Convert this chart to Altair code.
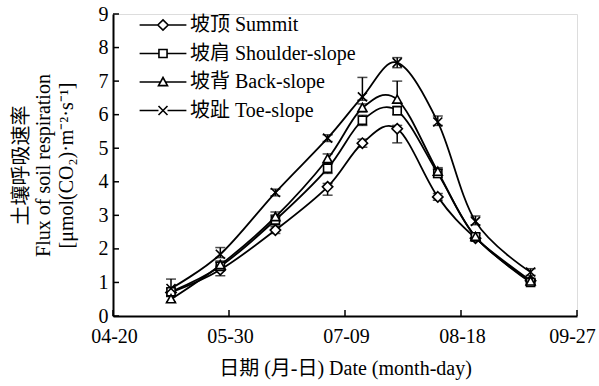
import altair as alt
import pandas as pd

# Soil respiration flux along a slope transect, growing season
series = ["坡顶 Summit", "坡肩 Shoulder-slope", "坡背 Back-slope", "坡趾 Toe-slope"]
dates = ["05-10", "05-27", "06-15", "07-03", "07-15", "07-27", "08-10", "08-23", "09-11"]

summit = [0.70, 1.38, 2.56, 3.85, 5.15, 5.58, 3.55, 2.32, 1.05]
shoulder = [0.72, 1.48, 2.86, 4.40, 5.83, 6.12, 4.25, 2.36, 1.00]
back = [0.50, 1.52, 2.95, 4.68, 6.20, 6.45, 4.30, 2.36, 1.03]
toe = [0.82, 1.84, 3.68, 5.30, 6.53, 7.55, 5.78, 2.82, 1.31]

# error bar extents (upper / lower)
summit_up = [0.10, 0.10, 0.10, 0.10, 0.12, 0.10, 0.10, 0.08, 0.05]
summit_dn = [0.10, 0.18, 0.10, 0.25, 0.12, 0.42, 0.10, 0.08, 0.05]
shoulder_up = [0.10, 0.12, 0.15, 0.15, 0.15, 0.12, 0.12, 0.10, 0.08]
shoulder_dn = [0.10, 0.12, 0.15, 0.15, 0.15, 0.12, 0.12, 0.10, 0.08]
back_up = [0.08, 0.12, 0.15, 0.15, 0.12, 0.55, 0.12, 0.10, 0.08]
back_dn = [0.08, 0.12, 0.10, 0.15, 0.12, 0.10, 0.12, 0.10, 0.08]
toe_up = [0.28, 0.20, 0.10, 0.10, 0.58, 0.15, 0.18, 0.16, 0.10]
toe_dn = [0.10, 0.10, 0.10, 0.10, 0.10, 0.15, 0.10, 0.10, 0.10]

x_tick_labels = ["04-20", "05-30", "07-09", "08-18", "09-27"]
y_ticks = [0, 1, 2, 3, 4, 5, 6, 7, 8, 9]

# marker glyphs (unit-square SVG paths) and legend glyphs (marker with line)
marker_paths = [
    "M0,-1.15L1.15,0L0,1.15L-1.15,0Z",
    "M-0.9,-0.9L0.9,-0.9L0.9,0.9L-0.9,0.9Z",
    "M0,-1L1,0.8L-1,0.8Z",
    "M-1,-1L1,1M-1,1L1,-1",
]
legend_paths = [
    "M-5.2,0L-1.15,0M1.15,0L5.2,0M0,-1.15L1.15,0L0,1.15L-1.15,0Z",
    "M-5.2,0L-0.9,0M0.9,0L5.2,0M-0.9,-0.9L0.9,-0.9L0.9,0.9L-0.9,0.9Z",
    "M-5.2,0L-0.55,0M0.55,0L5.2,0M0,-1L1,0.8L-1,0.8Z",
    "M-5.2,0L-1,0M1,0L5.2,0M-1,-1L1,1M-1,1L1,-1",
]

FONT = "Liberation Serif, Times New Roman, Noto Sans CJK SC"
start = pd.Timestamp("2013-04-20")


def day_of(md):
    return int((pd.Timestamp("2013-" + md) - start).days)


rows = []
for name, vals, ups, dns in zip(
    series,
    [summit, shoulder, back, toe],
    [summit_up, shoulder_up, back_up, toe_up],
    [summit_dn, shoulder_dn, back_dn, toe_dn],
):
    for d, v, u, w in zip(dates, vals, ups, dns):
        rows.append({"series": name, "day": day_of(d), "flux": v,
                     "hi": v + u, "lo": v - w})
df = pd.DataFrame(rows)

tick_days = [day_of(t) for t in x_tick_labels]
label_expr = " : ".join(f"datum.value == {d} ? '{t}'" for d, t in zip(tick_days, x_tick_labels)) + " : ''"

ticks_x = pd.DataFrame({"day": tick_days})
ticks_y = pd.DataFrame({"v": y_ticks})

x_axis = alt.Axis(values=tick_days, labelExpr=label_expr, ticks=False, grid=False,
                  domainColor="black", domainWidth=2, labelFont=FONT, labelFontSize=20,
                  labelColor="black", labelPadding=10, labelFlush=False, labelOverlap=False,
                  labelOffset={"condition": {"test": f"datum.value == {tick_days[-1]}",
                                             "value": -5}, "value": 1},
                  title="日期 (月-日) Date (month-day)", titleFont=FONT, titleFontSize=20,
                  titleFontWeight="normal", titleColor="black", titlePadding=12)
y_axis = alt.Axis(values=y_ticks, ticks=False, grid=False, domainColor="black",
                  domainWidth=2, labelFont=FONT, labelFontSize=20, labelColor="black",
                  labelPadding=5, labelFlush=False, labelOverlap=False, labelBound=False,
                  title=["土壤呼吸速率", "Flux of soil respiration", "[μmol(CO₂)·m⁻²·s⁻¹]"],
                  titleFont=FONT, titleFontSize=20, titleFontWeight="normal",
                  titleColor="black", titleLineHeight=22.5, titlePadding=22)

x_scale = alt.Scale(domain=[tick_days[0], tick_days[-1]], nice=False, zero=False)
y_scale = alt.Scale(domain=[0, 9], nice=False)

# every layer carries the same axis definition so the merged axes keep it
xq = alt.X("day:Q", scale=x_scale, axis=x_axis)


def yq(field):
    return alt.Y(field, scale=y_scale, axis=y_axis)


base = alt.Chart(df)

lines = base.mark_line(interpolate="cardinal", color="black", strokeWidth=1.8).encode(
    x=xq, y=yq("flux:Q"), detail="series:N")

err_rule = base.mark_rule(color="black", strokeWidth=1.5).encode(
    x=xq, y=yq("lo:Q"), y2="hi:Q")
cap_hi = base.mark_tick(orient="horizontal", color="black", thickness=1.5, size=10).encode(
    x=xq, y=yq("hi:Q"))
cap_lo = base.mark_tick(orient="horizontal", color="black", thickness=1.5, size=10).encode(
    x=xq, y=yq("lo:Q"))

points = base.mark_point(filled=True, fill="white", stroke="black", strokeWidth=1.6,
                         size=81, opacity=1).encode(
    x=xq, y=yq("flux:Q"),
    shape=alt.Shape("series:N", scale=alt.Scale(domain=series, range=marker_paths), legend=None))

# legend-only layer: no rows survive the filter, the explicit domain keeps all entries
legend_layer = base.transform_filter("false").mark_point(
    filled=False, color="black", strokeWidth=1.6, size=81, opacity=1).encode(
    x=xq, y=yq("flux:Q"),
    shape=alt.Shape("series:N", scale=alt.Scale(domain=series, range=legend_paths),
                    legend=alt.Legend(title=None, orient="none", legendX=40, legendY=1,
                                      symbolSize=81, symbolStrokeColor="black",
                                      symbolStrokeWidth=1.6, symbolOpacity=1,
                                      labelFont=FONT, labelFontSize=20, labelColor="black",
                                      labelLimit=400, labelOffset=17, rowPadding=8.5,
                                      padding=0, symbolOffset=0)))

# inward-pointing tick marks on both axes
yticks = alt.Chart(ticks_y).mark_rule(color="black", strokeWidth=1.5).encode(
    y=yq("v:Q"), x=alt.value(0), x2=alt.value(6))
xticks = alt.Chart(ticks_x).mark_rule(color="black", strokeWidth=1.5).encode(
    x=xq, y=alt.value(302), y2=alt.value(296))

chart = alt.layer(lines, err_rule, cap_hi, cap_lo, points, legend_layer, yticks, xticks).resolve_scale(
    shape="independent"
).properties(
    width=464, height=302,
    autosize=alt.AutoSizeParams(type="none"),
    padding={"left": 113, "top": 14, "right": 22, "bottom": 70},
).configure_view(stroke=None).configure_axis(
    labelOverlap=False, labelBound=False
).configure(background="white")

chart.save("out.html", embed_options={"renderer": "svg", "actions": False})
